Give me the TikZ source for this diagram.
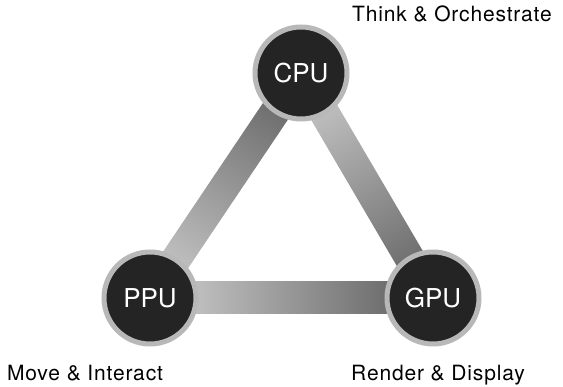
\documentclass[tikz,border=0pt]{standalone}
\usepackage{fontspec}
\setmainfont{TeX Gyre Heros}
\newfontfamily\capfont[LetterSpace=4]{TeX Gyre Heros}
\begin{document}
\begin{tikzpicture}[x=1pt,y=1pt,
  unit/.style={circle, fill=black!86, draw=black!28, line width=5pt, minimum size=92pt, inner sep=0pt, text=white, font=\fontsize{26}{26}\selectfont},
  caption/.style={text=black, font=\capfont\fontsize{21}{21}\selectfont, inner sep=0pt, anchor=base},
  barfill/.style={left color=black!18, right color=black!64}
]
\useasboundingbox (0,0) rectangle (563,387);
\coordinate (C) at (301,314);
\coordinate (P) at (150,89);
\coordinate (G) at (433,89);
% bars
\begin{scope}[transform canvas={shift={(P)}, rotate=0}]
  \shade[barfill] (0,-16) rectangle (283,16);
\end{scope}
\begin{scope}[transform canvas={shift={(P)}, rotate=56.1}]
  \shade[barfill] (0,-15) rectangle (271,15);
\end{scope}
\begin{scope}[transform canvas={shift={(C)}, rotate=-59.6}]
  \shade[barfill] (0,-15) rectangle (261,15);
\end{scope}
% units
\node[unit] (cpu) at (C) {CPU};
\node[unit] (ppu) at (P) {PPU};
\node[unit] (gpu) at (G) {GPU};
% captions
\node[caption] (think) at (452,365) {Think \& Orchestrate};
\node[caption] (move) at (85,6.5) {Move \& Interact};
\node[caption] (render) at (438,6.5) {Render \& Display};
\end{tikzpicture}
\end{document}
